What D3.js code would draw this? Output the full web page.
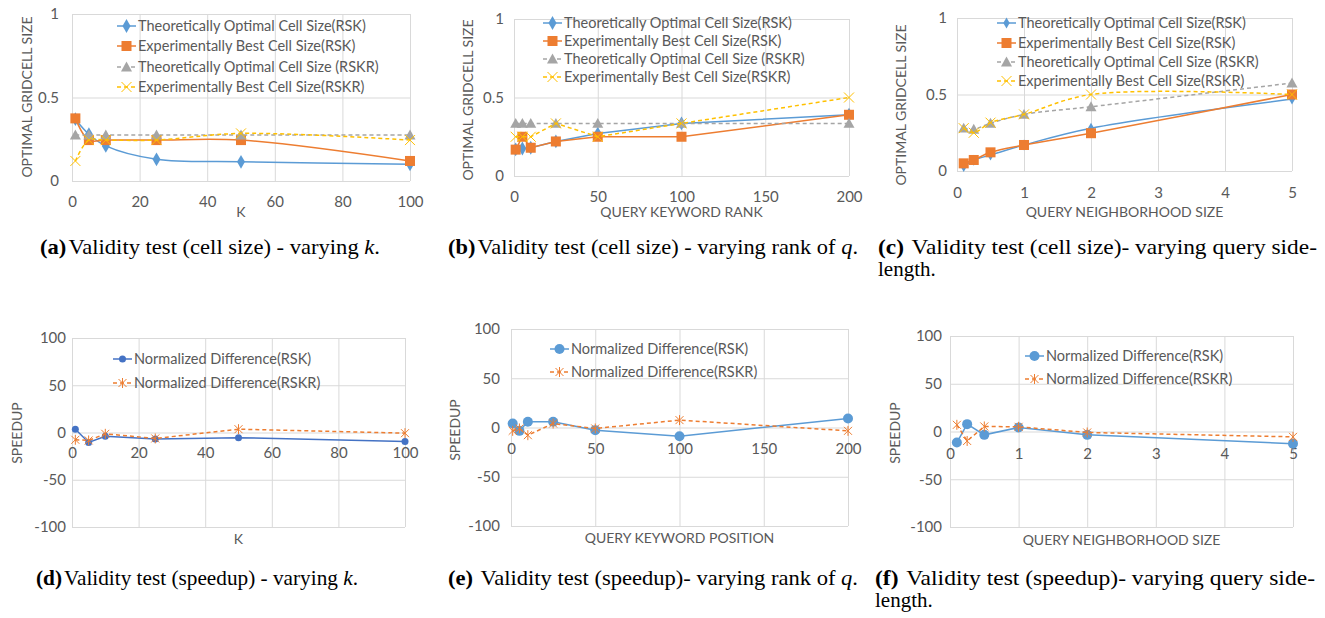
<!DOCTYPE html>
<html>
<head>
<meta charset="utf-8">
<script src="https://cdn.jsdelivr.net/npm/d3@7"></script>
<style>
  body { margin: 0; background: #fff; }
  text { font-family: Lato, "Liberation Sans", sans-serif; fill: #595959; }
  .tick text { font-size: 15px; }
  .legend text { font-size: 14.5px; }
  .title { font-size: 14px; }
  .cap { font-family: "Liberation Serif", "Times New Roman", serif; fill: #000; font-size: 21px; }
</style>
</head>
<body>
<svg id="chart" width="1325" height="618"></svg>
<script>
// x values of each experiment
var kValues = [1, 5, 10, 25, 50, 100];
var rankValues = [1, 5, 10, 25, 50, 100, 200];
var sideValues = [0.1, 0.25, 0.5, 1, 2, 5];

// optimal grid cell size, varying k
var cellK_theoRSK  = [0.37, 0.28, 0.21, 0.13, 0.115, 0.10];
var cellK_expRSK   = [0.375, 0.245, 0.245, 0.245, 0.245, 0.12];
var cellK_theoRSKR = [0.275, 0.275, 0.275, 0.275, 0.275, 0.275];
var cellK_expRSKR  = [0.12, 0.245, 0.245, 0.245, 0.285, 0.245];

// optimal grid cell size, varying keyword rank
var cellRank_theoRSK  = [0.17, 0.175, 0.18, 0.22, 0.27, 0.335, 0.39];
var cellRank_expRSK   = [0.168, 0.25, 0.18, 0.22, 0.25, 0.25, 0.39];
var cellRank_theoRSKR = [0.335, 0.335, 0.335, 0.335, 0.335, 0.335, 0.335];
var cellRank_expRSKR  = [0.25, 0.25, 0.25, 0.335, 0.25, 0.335, 0.5];

// optimal grid cell size, varying neighborhood size
var cellSide_theoRSK  = [0.03, 0.07, 0.105, 0.17, 0.28, 0.47];
var cellSide_expRSK   = [0.05, 0.072, 0.122, 0.17, 0.247, 0.5];
var cellSide_theoRSKR = [0.28, 0.273, 0.312, 0.37, 0.42, 0.575];
var cellSide_expRSKR  = [0.28, 0.25, 0.316, 0.37, 0.5, 0.5];

// speedup (normalized difference)
var speedK_RSK     = [3.5, -10.5, -4, -7, -5.5, -9.5];
var speedK_RSKR    = [-7.7, -8.4, -1.4, -6.3, 3.5, -0.7];
var speedRank_RSK  = [4, -3.4, 5.8, 5.8, -2.7, -8.8, 9.2];
var speedRank_RSKR = [-3.4, -1, -7.8, 4, -1, 7.5, -3.4];
var speedSide_RSK  = [-11.6, 7.7, -3.5, 4.2, -3.5, -12.7];
var speedSide_RSKR = [7, -9.9, 5.3, 4.9, -1, -5.6];

var cellNames  = ["Theoretically Optimal Cell Size(RSK)", "Experimentally Best Cell Size(RSK)",
                  "Theoretically Optimal Cell Size (RSKR)", "Experimentally Best Cell Size(RSKR)"];
var speedNames = ["Normalized Difference(RSK)", "Normalized Difference(RSKR)"];

var kTicks = [0, 20, 40, 60, 80, 100];
var rankTicks = [0, 50, 100, 150, 200];
var sideTicks = [0, 1, 2, 3, 4, 5];
var cellTicks = [0, 0.5, 1];
var speedTicks = [-100, -50, 0, 50, 100];

var svg = d3.select("#chart");

function cellSeries(vals, sizes) {
  return [
    {name: cellNames[0], values: vals[0], color: "#5b9bd5", dash: null, marker: "diamond", size: sizes[0]},
    {name: cellNames[1], values: vals[1], color: "#ed7d31", dash: null, marker: "square", size: sizes[1]},
    {name: cellNames[2], values: vals[2], color: "#a5a5a5", dash: "4,3", marker: "triangle", size: sizes[2]},
    {name: cellNames[3], values: vals[3], color: "#ffc000", dash: "4,3", marker: "x", size: sizes[3]}
  ];
}
function speedSeries(vals, blue, r) {
  return [
    {name: speedNames[0], values: vals[0], color: blue, dash: null, marker: "circle", size: r},
    {name: speedNames[1], values: vals[1], color: "#ed7d31", dash: "4,3", marker: "star", size: 5}
  ];
}

var panels = [
  {left: 72, right: 410, top: 14, bottom: 181, xDomain: [0, 100], xTicks: kTicks, yDomain: [0, 1], yTicks: cellTicks,
   xs: kValues, series: cellSeries([cellK_theoRSK, cellK_expRSK, cellK_theoRSKR, cellK_expRSKR], [5, 5, 5.5, 5]),
   curve: d3.curveCatmullRom, xAt: 0, xGap: 21, yGap: 13, xTitle: "K", xTitleY: 212, yTitle: "OPTIMAL GRIDCELL SIZE",
   yTitleX: 27, yTitleY: 97, legX: 117, legRows: [26, 46, 67, 87]},
  {left: 514, right: 849, top: 19, bottom: 176, xDomain: [0, 200], xTicks: rankTicks, yDomain: [0, 1], yTicks: cellTicks,
   xs: rankValues, series: cellSeries([cellRank_theoRSK, cellRank_expRSK, cellRank_theoRSKR, cellRank_expRSKR], [5, 5, 5.5, 5]),
   curve: d3.curveLinear, xAt: 0, xGap: 21, yGap: 10, xTitle: "QUERY KEYWORD RANK", xTitleY: 212, yTitle: "OPTIMAL GRIDCELL SIZE",
   yTitleX: 468, yTitleY: 100, legX: 543, legRows: [23, 41, 59, 77]},
  {left: 957, right: 1292, top: 18, bottom: 171, xDomain: [0, 5], xTicks: sideTicks, yDomain: [0, 1], yTicks: cellTicks,
   xs: sideValues, series: cellSeries([cellSide_theoRSK, cellSide_expRSK, cellSide_theoRSKR, cellSide_expRSKR], [4, 5, 5.5, 5]),
   curve: d3.curveCatmullRom, xAt: 0, xGap: 22, yGap: 10, xTitle: "QUERY NEIGHBORHOOD SIZE", xTitleY: 212, yTitle: "OPTIMAL GRIDCELL SIZE",
   yTitleX: 901, yTitleY: 105, legX: 997, legRows: [23, 43, 62, 81]},
  {left: 72, right: 405, top: 338, bottom: 527, xDomain: [0, 100], xTicks: kTicks, yDomain: [-100, 100], yTicks: speedTicks,
   xs: kValues, series: speedSeries([speedK_RSK, speedK_RSKR], "#4472c4", 3.5),
   curve: d3.curveLinear, xAt: 0, xGap: 20, yGap: 6, xTitle: "K", xTitleY: 539, yTitle: "SPEEDUP",
   yTitleX: 17, yTitleY: 433, legX: 113, legRows: [359, 383]},
  {left: 511, right: 848, top: 329, bottom: 526, xDomain: [0, 200], xTicks: rankTicks, yDomain: [-100, 100], yTicks: speedTicks,
   xs: rankValues, series: speedSeries([speedRank_RSK, speedRank_RSKR], "#5b9bd5", 5),
   curve: d3.curveLinear, xAt: 0, xGap: 21, yGap: 11, xTitle: "QUERY KEYWORD POSITION", xTitleY: 538, yTitle: "SPEEDUP",
   yTitleX: 455, yTitleY: 430, legX: 550, legRows: [349, 372]},
  {left: 950, right: 1293, top: 336, bottom: 527, xDomain: [0, 5], xTicks: sideTicks, yDomain: [-100, 100], yTicks: speedTicks,
   xs: sideValues, series: speedSeries([speedSide_RSK, speedSide_RSKR], "#5b9bd5", 5),
   curve: d3.curveLinear, xAt: 0, xGap: 22, yGap: 8, xTitle: "QUERY NEIGHBORHOOD SIZE", xTitleY: 540, yTitle: "SPEEDUP",
   yTitleX: 895, yTitleY: 433, legX: 1025, legRows: [356, 379]}
];

function drawMarker(g, type, color, cx, cy, s) {
  if (type === "diamond") {
    g.append("path").attr("d", d3.symbol(d3.symbolDiamond, s * s * 2.2)())
      .attr("transform", "translate(" + cx + "," + cy + ")").attr("fill", color);
  } else if (type === "square") {
    g.append("rect").attr("x", cx - s).attr("y", cy - s).attr("width", 2 * s).attr("height", 2 * s).attr("fill", color);
  } else if (type === "triangle") {
    g.append("path").attr("d", "M0," + (-s) + "L" + s + "," + (s * 0.8) + "L" + (-s) + "," + (s * 0.8) + "Z")
      .attr("transform", "translate(" + cx + "," + cy + ")").attr("fill", color);
  } else if (type === "circle") {
    g.append("circle").attr("cx", cx).attr("cy", cy).attr("r", s).attr("fill", color);
  } else if (type === "x") {
    g.append("path").attr("d", "M" + (-s) + "," + (-s) + "L" + s + "," + s + "M" + (-s) + "," + s + "L" + s + "," + (-s))
      .attr("transform", "translate(" + cx + "," + cy + ")").attr("stroke", color).attr("stroke-width", 1).attr("fill", "none");
  } else if (type === "star") {
    var a = s * 0.8;
    g.append("path").attr("d", "M" + (-a) + "," + (-a) + "L" + a + "," + a + "M" + (-a) + "," + a + "L" + a + "," + (-a) +
      "M0," + (-s) + "L0," + s)
      .attr("transform", "translate(" + cx + "," + cy + ")").attr("stroke", color).attr("stroke-width", 1).attr("fill", "none");
  }
}

function drawPanel(p) {
  var g = svg.append("g");
  var x = d3.scaleLinear().domain(p.xDomain).range([p.left, p.right]);
  var y = d3.scaleLinear().domain(p.yDomain).range([p.bottom, p.top]);

  // gridlines
  var gx = g.append("g").attr("transform", "translate(0," + p.bottom + ")")
    .call(d3.axisBottom(x).tickValues(p.xTicks).tickSize(-(p.bottom - p.top)).tickFormat(""));
  var gy = g.append("g").attr("transform", "translate(" + p.left + ",0)")
    .call(d3.axisLeft(y).tickValues(p.yTicks).tickSize(-(p.right - p.left)).tickFormat(""));
  gx.select(".domain").remove();
  gy.select(".domain").remove();
  g.selectAll("line").attr("stroke", "#d9d9d9");

  // tick labels
  var xa = g.append("g").attr("transform", "translate(0," + y(p.xAt) + ")")
    .call(d3.axisBottom(x).tickValues(p.xTicks).tickSize(0).tickFormat(d => String(d)));
  xa.select(".domain").remove();
  xa.selectAll("text").attr("y", p.xGap).attr("dy", "0.35em");

  var ya = g.append("g").attr("transform", "translate(" + p.left + ",0)")
    .call(d3.axisLeft(y).tickValues(p.yTicks).tickSize(0).tickFormat(d => String(d)));
  ya.select(".domain").remove();
  ya.selectAll("text").attr("x", -p.yGap);

  // axis titles
  g.append("text").attr("class", "title").attr("x", (p.left + p.right) / 2).attr("y", p.xTitleY)
    .attr("dy", "0.35em").attr("text-anchor", "middle").text(p.xTitle);
  g.append("text").attr("class", "title").attr("text-anchor", "middle").attr("dy", "0.35em")
    .attr("transform", "translate(" + p.yTitleX + "," + p.yTitleY + ") rotate(-90)").text(p.yTitle);

  // series
  p.series.forEach(function(s) {
    var line = d3.line().x((d, i) => x(p.xs[i])).y(d => y(d)).curve(p.curve);
    g.append("path").attr("d", line(s.values)).attr("fill", "none").attr("stroke", s.color)
      .attr("stroke-width", 1.5).attr("stroke-dasharray", s.dash);
    s.values.forEach(function(v, i) {
      drawMarker(g, s.marker, s.color, x(p.xs[i]), y(v), s.size);
    });
  });

  // legend
  var leg = g.append("g").attr("class", "legend");
  p.series.forEach(function(s, i) {
    var ly = p.legRows[i];
    leg.append("line").attr("x1", p.legX).attr("x2", p.legX + 19).attr("y1", ly).attr("y2", ly)
      .attr("stroke", s.color).attr("stroke-width", 1.5).attr("stroke-dasharray", s.dash);
    drawMarker(leg, s.marker, s.color, p.legX + 9.5, ly, s.size);
    leg.append("text").attr("x", p.legX + 21).attr("y", ly).attr("dy", "0.35em").text(s.name);
  });
}

panels.forEach(drawPanel);

// captions
var captions = [
  {x: 40, y: 254, w: 340, label: "(a)", text: "Validity test (cell size) - varying ", it: "k", end: "."},
  {x: 448, y: 254, w: 410, label: "(b)", text: "Validity test (cell size) - varying rank of ", it: "q", end: "."},
  {x: 878, y: 254, w: 439, label: "(c)", text: " Validity test (cell size)- varying query side-", it: "", end: "", line2: "length."},
  {x: 36, y: 585, w: 322, label: "(d)", text: "Validity test (speedup) - varying ", it: "k", end: "."},
  {x: 448, y: 585, w: 410, label: "(e)", text: " Validity test (speedup)- varying rank of ", it: "q", end: "."},
  {x: 875, y: 585, w: 440, label: "(f)", text: " Validity test (speedup)- varying query side-", it: "", end: "", line2: "length."}
];

captions.forEach(function(c) {
  var t = svg.append("text").attr("class", "cap").attr("x", c.x).attr("y", c.y)
    .attr("textLength", c.w).attr("lengthAdjust", "spacingAndGlyphs");
  t.append("tspan").attr("font-weight", "bold").text(c.label);
  t.append("tspan").attr("dx", 2).text(c.text);
  if (c.it) t.append("tspan").attr("font-style", "italic").text(c.it);
  if (c.end) t.append("tspan").text(c.end);
  if (c.line2) svg.append("text").attr("class", "cap").attr("x", c.x).attr("y", c.y + 22).text(c.line2);
});
</script>
</body>
</html>
